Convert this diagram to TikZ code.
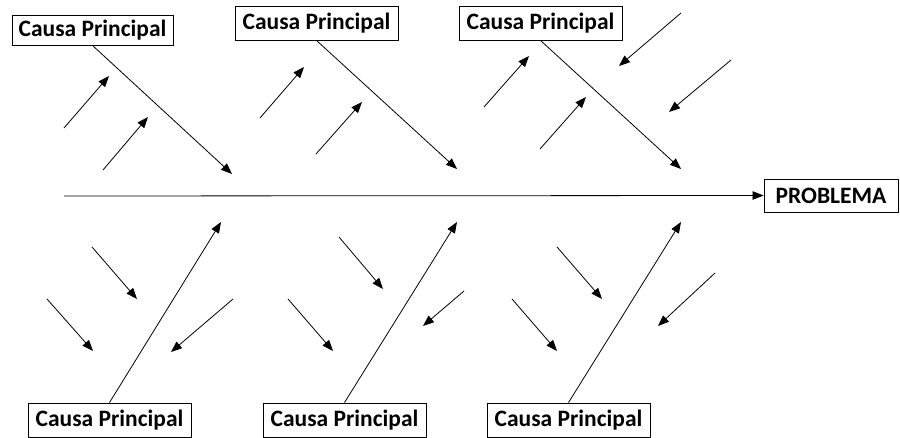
\documentclass[tikz,border=0pt]{standalone}
\usepackage{fontspec}
\setmainfont{Carlito}
\usetikzlibrary{arrows.meta}
\begin{document}
\begin{tikzpicture}[x=1pt,y=-1pt,
  causebox/.style={draw=black, line width=0.9pt, fill=white, inner sep=0pt,
    font=\fontsize{23.5}{27}\selectfont\bfseries},
  arr/.style={line width=0.8pt, -{Triangle[length=11pt,width=8.5pt]}}]
\useasboundingbox (0,0) rectangle (900,438);
% boxes
\node[causebox, minimum width=161pt, minimum height=30pt] (c1) at (92.5,30) {Causa Principal};
\node[causebox, minimum width=163pt, minimum height=34pt] (c2) at (316.5,23) {Causa Principal};
\node[causebox, minimum width=163pt, minimum height=34pt] (c3) at (540.5,23) {Causa Principal};
\node[causebox, minimum width=163pt, minimum height=34pt] (c4) at (109.5,420) {Causa Principal};
\node[causebox, minimum width=163pt, minimum height=34pt] (c5) at (344.5,420) {Causa Principal};
\node[causebox, minimum width=163pt, minimum height=34pt] (c6) at (568.5,420) {Causa Principal};
\node[causebox, minimum width=134pt, minimum height=33pt] (p) at (831,195.5) {PROBLEMA};
% spine
\coordinate (s0) at (64,196);
\draw[arr] (s0) -- (p.west);
% main bones
\coordinate (t1) at (232,174);
\coordinate (t2) at (457,169);
\coordinate (t3) at (681,169);
\coordinate (t4) at (221,222);
\coordinate (t5) at (457,222);
\coordinate (t6) at (681,222);
\draw[arr] (c1.south) -- (t1);
\draw[arr] (c2.south) -- (t2);
\draw[arr] (c3.south) -- (t3);
\draw[arr] (c4.north) -- (t4);
\draw[arr] (c5.north) -- (t5);
\draw[arr] (c6.north) -- (t6);
% sub causes, top
\coordinate (a1s) at (64,128);  \coordinate (a1e) at (109,76);
\coordinate (a2s) at (103,170); \coordinate (a2e) at (148,117);
\coordinate (a3s) at (260,118); \coordinate (a3e) at (304,67);
\coordinate (a4s) at (316,154); \coordinate (a4e) at (362,102);
\coordinate (a5s) at (484,107); \coordinate (a5e) at (529,56);
\coordinate (a6s) at (540,149); \coordinate (a6e) at (586,97);
\coordinate (a7s) at (681,13);  \coordinate (a7e) at (619,66);
\coordinate (a8s) at (731,60);  \coordinate (a8e) at (669,112);
% sub causes, bottom
\coordinate (b1s) at (47,299);  \coordinate (b1e) at (93,351);
\coordinate (b2s) at (92,247);  \coordinate (b2e) at (137,299);
\coordinate (b3s) at (233,299); \coordinate (b3e) at (171,352);
\coordinate (b4s) at (288,299); \coordinate (b4e) at (333,351);
\coordinate (b5s) at (339,237); \coordinate (b5e) at (383,289);
\coordinate (b6s) at (464,291); \coordinate (b6e) at (423,326);
\coordinate (b7s) at (512,299); \coordinate (b7e) at (557,351);
\coordinate (b8s) at (557,247); \coordinate (b8e) at (602,299);
\coordinate (b9s) at (715,273); \coordinate (b9e) at (658,326);
\foreach \n in {a1,a2,a3,a4,a5,a6,a7,a8,b1,b2,b3,b4,b5,b6,b7,b8,b9}
  \draw[arr] (\n s) -- (\n e);
\end{tikzpicture}
\end{document}
